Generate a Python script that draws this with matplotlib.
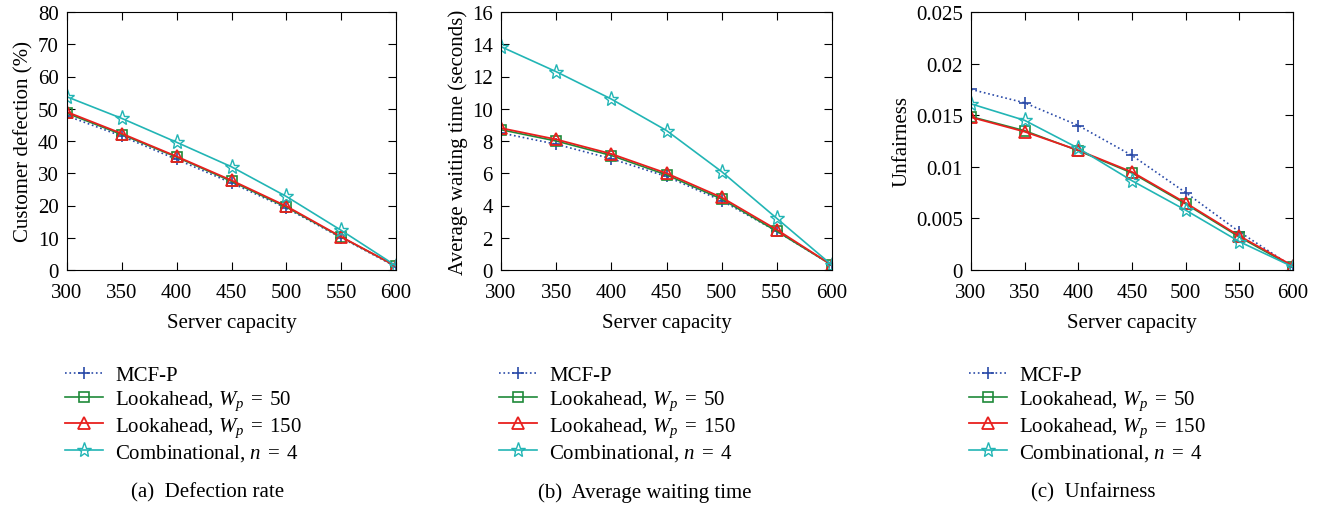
import numpy as np
import matplotlib
matplotlib.use('Agg')
import matplotlib.pyplot as plt

plt.rcParams['font.family'] = ['Liberation Serif', 'DejaVu Serif']
plt.rcParams['mathtext.fontset'] = 'custom'
plt.rcParams['mathtext.rm'] = 'Liberation Serif'
plt.rcParams['mathtext.it'] = 'Liberation Serif:italic'

capacity = [300, 350, 400, 450, 500, 550, 600]

# (a) defection rate (%)
defect_mcfp = [47.8, 41.5, 34.3, 27.0, 19.2, 10.0, 1.0]
defect_la50 = [48.6, 42.0, 35.0, 27.5, 19.5, 10.2, 1.2]
defect_la150 = [49.0, 42.3, 35.2, 27.8, 19.8, 10.3, 1.2]
defect_comb = [53.7, 47.0, 39.6, 32.0, 22.8, 12.3, 1.3]

# (b) average waiting time (s)
wait_mcfp = [8.5, 7.8, 6.9, 5.8, 4.3, 2.4, 0.3]
wait_la50 = [8.7, 8.0, 7.1, 5.9, 4.4, 2.4, 0.3]
wait_la150 = [8.8, 8.1, 7.2, 6.0, 4.5, 2.5, 0.3]
wait_comb = [13.85, 12.3, 10.6, 8.65, 6.1, 3.2, 0.3]

# (c) unfairness
unfair_mcfp = [0.0175, 0.0162, 0.0140, 0.0111, 0.0075, 0.0037, 0.0003]
unfair_la50 = [0.01486, 0.0135, 0.01156, 0.0094, 0.0064, 0.0032, 0.0003]
unfair_la150 = [0.0148, 0.0134, 0.0116, 0.0095, 0.0065, 0.0033, 0.0004]
unfair_comb = [0.0161, 0.0145, 0.0118, 0.00865, 0.0058, 0.00275, 0.0003]

labels = ['MCF-P', r'Lookahead, $W_p\;=\;50$', r'Lookahead, $W_p\;=\;150$',
          r'Combinational, $n\;=\;4$']
captions = ['(a)  Defection rate', '(b)  Average waiting time', '(c)  Unfairness']
caption_x = [208, 645, 1093]
ylabels = ['Customer defection (%)', 'Average waiting time (seconds)', 'Unfairness']

panels = [
    (defect_mcfp, defect_la50, defect_la150, defect_comb, 80, np.arange(0, 81, 10), None),
    (wait_mcfp, wait_la50, wait_la150, wait_comb, 16, np.arange(0, 17, 2), None),
    (unfair_mcfp, unfair_la50, unfair_la150, unfair_comb, 0.025,
     [0, 0.005, 0.01, 0.015, 0.02, 0.025], ['0', '0.005', '0.01', '0.015', '0.02', '0.025']),
]

W, H = 1318, 506
fig = plt.figure(figsize=(W / 100, H / 100), dpi=100)
lefts = [67, 501, 971]
rights = [396, 832, 1293]
top, bottom = 13, 271

blue = '#2a4aa8'
green = '#1f8a3a'
red = '#e8201e'
cyan = '#22b5b5'

for i, (m, l50, l150, c, ymax, yt, ytl) in enumerate(panels):
    ax = fig.add_axes([lefts[i] / W, 1 - bottom / H, (rights[i] - lefts[i]) / W, (bottom - top) / H])
    ax.plot(capacity, m, ls=':', color=blue, marker='+', ms=9, mew=1.2, lw=1.2, label=labels[0])
    ax.plot(capacity, l50, ls='-', color=green, marker='s', ms=7, mfc='none', mew=1.2, lw=1.2, label=labels[1])
    ax.plot(capacity, l150, ls='-', color=red, marker='^', ms=9, mfc='none', mew=1.3, lw=1.3, label=labels[2])
    ax.plot(capacity, c, ls='-', color=cyan, marker='*', ms=11, mfc='none', mew=1.0, lw=1.2, label=labels[3])
    ax.set_xlim(300, 600)
    ax.set_ylim(0, ymax)
    ax.set_xticks(capacity)
    ax.set_yticks(yt)
    if ytl is not None:
        ax.set_yticklabels(ytl)
    ax.tick_params(direction='in', top=True, right=True, labelsize=15, length=6)
    ax.tick_params(axis='x', pad=9)
    ax.tick_params(axis='y', pad=6)
    for s in ax.spines.values():
        s.set_linewidth(0.8)
    ax.set_xlabel('Server capacity', fontsize=15, labelpad=8)
    ax.set_ylabel(ylabels[i], fontsize=15, labelpad=3)
    ax.legend(loc='upper left', bbox_to_anchor=(-0.005, -0.37), frameon=False, fontsize=15,
              handlelength=1.8, handletextpad=0.6, labelspacing=0.16, borderaxespad=0, borderpad=0)
    fig.text(caption_x[i] / W, 1 - 493 / H, captions[i], ha='center', va='center', fontsize=15)

fig.savefig('out.png', dpi=100)
